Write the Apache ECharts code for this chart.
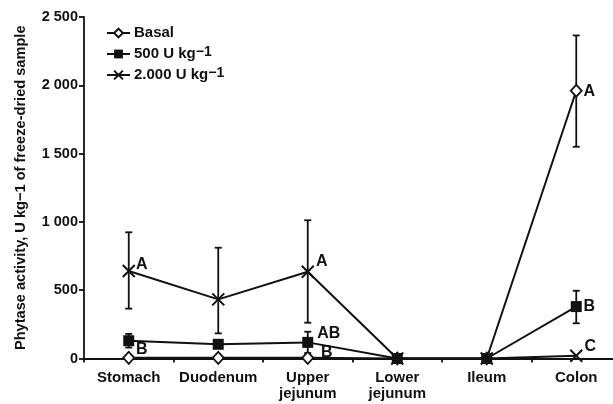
<!DOCTYPE html>
<html>
<head>
<meta charset="utf-8">
<script src="https://cdn.jsdelivr.net/npm/echarts@6/dist/echarts.min.js"></script>
<style>
  html, body { margin: 0; padding: 0; background: #fff; }
  #chart { width: 613px; height: 404px; }
</style>
</head>
<body>
<div id="chart"></div>
<script>
// Intestinal segments along the x axis
const segments = ['Stomach', 'Duodenum', 'Upper\njejunum', 'Lower\njejunum', 'Ileum', 'Colon'];

// Mean phytase activity (U/kg of freeze-dried sample) per diet
const basalMean = [5, 5, 5, 0, 0, 1960];
const u500Mean = [130, 104, 118, 0, 0, 380];
const u2000Mean = [640, 433, 635, 0, 0, 20];

// Error bar ends (low, high); null where no bar is drawn
const basalLow = [null, null, null, null, null, 1550];
const basalHigh = [null, null, null, null, null, 2365];
const u500Low = [80, 85, 40, null, null, 258];
const u500High = [180, 125, 196, null, null, 496];
const u2000Low = [365, 184, 262, null, null, null];
const u2000High = [924, 811, 1012, null, null, null];

// Significance letters
const basalLetters = ['B', '', 'B', '', '', 'A'];
const u500Letters = ['', '', 'AB', '', '', 'B'];
const u2000Letters = ['A', '', 'A', '', '', 'C'];

// Y axis ticks
const yTicks = [0, 500, 1000, 1500, 2000, 2500];

const FONT = "'Liberation Sans', Arial, Helvetica, sans-serif";

// Letter placement relative to each marker, [dx, dy] in px
const letterOffsets = {
  basal: [[13, -8], null, [19, -5], null, null, [13, 1]],
  u500: [null, null, [21, -9], null, null, [13, 0]],
  u2000: [[13, -6], null, [14, -10], null, null, [14, -9]]
};

function withLetters(means, letters, offsets) {
  return means.map((v, i) => {
    const item = { value: v };
    if (letters[i]) {
      item.label = {
        show: true,
        formatter: letters[i],
        position: 'inside',
        offset: offsets[i],
        color: '#111',
        fontFamily: FONT,
        fontWeight: 'bold',
        fontSize: 16
      };
    }
    return item;
  });
}

function errorData(low, high) {
  const out = [];
  low.forEach((l, i) => {
    if (l !== null && high[i] !== null) out.push([i, l, high[i]]);
  });
  return out;
}

function errorSeries(low, high, z) {
  return {
    type: 'custom',
    z: z,
    silent: true,
    data: errorData(low, high),
    renderItem: function (params, api) {
      const x = api.value(0);
      const lo = api.coord([x, api.value(1)]);
      const hi = api.coord([x, api.value(2)]);
      const cap = 3.5;
      const style = { stroke: '#111', lineWidth: 1.8, fill: null };
      return {
        type: 'group',
        children: [
          { type: 'line', shape: { x1: lo[0], y1: lo[1], x2: hi[0], y2: hi[1] }, style: style },
          { type: 'line', shape: { x1: hi[0] - cap, y1: hi[1], x2: hi[0] + cap, y2: hi[1] }, style: style },
          { type: 'line', shape: { x1: lo[0] - cap, y1: lo[1], x2: lo[0] + cap, y2: lo[1] }, style: style }
        ]
      };
    }
  };
}

const crossPath = 'path://M0,0L10,10M10,0L0,10';

const legendRich = {
  sup: { fontFamily: FONT, fontWeight: 'bold', fontSize: 14, color: '#111', verticalAlign: 'top', lineHeight: 14 }
};

const chart = echarts.init(document.getElementById('chart'), null, { renderer: 'canvas' });

chart.setOption({
  animation: false,
  backgroundColor: '#fff',
  textStyle: { fontFamily: FONT },
  grid: { left: 84, right: -8, top: 17, bottom: 45.5, outerBoundsMode: 'none', containLabel: false },
  legend: {
    orient: 'vertical',
    left: 106,
    top: 24,
    padding: 0,
    itemWidth: 23,
    itemHeight: 11,
    itemGap: 3,
    textStyle: {
      fontFamily: FONT, fontWeight: 'bold', fontSize: 15, color: '#111',
      lineHeight: 18, padding: [0, 0, 0, -1], rich: legendRich
    },
    formatter: function (name) {
      return name.replace('\u22121', '{sup|\u22121}');
    },
    data: ['Basal', '500 U kg\u22121', '2.000 U kg\u22121']
  },
  xAxis: {
    type: 'category',
    data: segments,
    boundaryGap: true,
    axisLine: { lineStyle: { color: '#111', width: 1.8 } },
    axisTick: { show: true, alignWithLabel: false, interval: 0, length: 4, inside: false, lineStyle: { color: '#111', width: 1.8 } },
    axisLabel: {
      interval: 0,
      hideOverlap: false,
      color: '#111',
      fontFamily: FONT,
      fontWeight: 'bold',
      fontSize: 15,
      lineHeight: 16,
      margin: 11
    }
  },
  yAxis: {
    type: 'value',
    min: yTicks[0],
    max: yTicks[yTicks.length - 1],
    interval: 500,
    name: 'Phytase activity, U kg\u22121 of freeze-dried sample',
    nameLocation: 'middle',
    nameGap: 56,
    nameTextStyle: { fontFamily: FONT, fontWeight: 'bold', fontSize: 14.6, color: '#111' },
    splitLine: { show: false },
    axisLine: { show: true, lineStyle: { color: '#111', width: 1.8 } },
    axisTick: { show: true, length: 5, lineStyle: { color: '#111', width: 1.8 } },
    axisLabel: {
      color: '#111',
      fontFamily: FONT,
      fontWeight: 'bold',
      fontSize: 14.5,
      margin: 6,
      formatter: function (v) {
        return v >= 1000 ? Math.floor(v / 1000) + ' ' + String(v % 1000).padStart(3, '0') : String(v);
      }
    }
  },
  series: [
    errorSeries(basalLow, basalHigh, 1),
    errorSeries(u500Low, u500High, 1),
    errorSeries(u2000Low, u2000High, 1),
    {
      name: 'Basal',
      type: 'line',
      z: 3,
      data: withLetters(basalMean, basalLetters, letterOffsets.basal),
      symbol: 'diamond',
      symbolSize: [11, 12],
      showAllSymbol: true,
      lineStyle: { color: '#111', width: 2 },
      itemStyle: { color: '#fff', borderColor: '#111', borderWidth: 1.8 }
    },
    {
      name: '2.000 U kg\u22121',
      type: 'line',
      z: 2,
      data: withLetters(u2000Mean, u2000Letters, letterOffsets.u2000),
      symbol: crossPath,
      symbolSize: 12,
      showAllSymbol: true,
      lineStyle: { color: '#111', width: 2 },
      itemStyle: { color: '#111', borderColor: '#111', borderWidth: 2 }
    },
    {
      name: '500 U kg\u22121',
      type: 'line',
      z: 4,
      data: withLetters(u500Mean, u500Letters, letterOffsets.u500),
      symbol: 'rect',
      symbolSize: 11,
      showAllSymbol: true,
      lineStyle: { color: '#111', width: 2 },
      itemStyle: { color: '#111', borderColor: '#111', borderWidth: 0 }
    }
  ]
});
</script>
</body>
</html>
